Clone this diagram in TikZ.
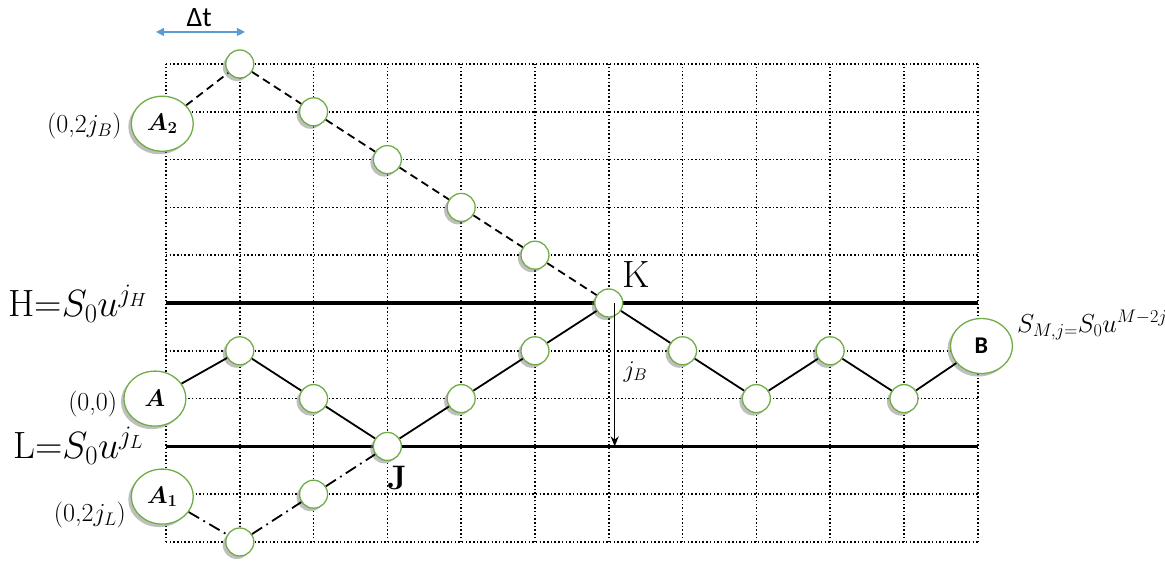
\RequirePackage{fix-cm}
\documentclass[tikz,border=0pt]{standalone}
\usepackage{amsmath,amssymb}
\usepackage{bm}
\usepackage{fontspec}
\newfontfamily\calibri{Carlito}
\usepackage{tikz}
\usetikzlibrary{shapes.geometric, shadows, arrows.meta}

\definecolor{nodegreen}{RGB}{112,173,71}
\definecolor{arrowblue}{RGB}{91,155,213}

\tikzset{
  lattice/.style={line width=1.5pt, dash pattern=on 1.5pt off 2.2pt},
  barrier/.style={line width=3.5pt},
  lattnode/.style={circle, draw=nodegreen, line width=1.3pt, fill=white,
    minimum size=28pt, inner sep=0pt,
    drop shadow={shadow xshift=-3pt, shadow yshift=-3pt, fill=black!50}},
  endnode/.style={ellipse, draw=nodegreen, line width=1.3pt, fill=white,
    minimum width=62pt, minimum height=55pt, inner sep=0pt,
    drop shadow={shadow xshift=-3pt, shadow yshift=-3pt, fill=black!50}},
  mainpath/.style={line width=1.8pt},
  uppath/.style={line width=1.8pt, dash pattern=on 8pt off 5pt},
  lowpath/.style={line width=1.8pt, dash pattern=on 12pt off 5pt on 1.8pt off 5pt}
}

\begin{document}
\begin{tikzpicture}[x=73.8pt, y=47.8pt]
    \useasboundingbox (-2.249,-0.377) rectangle (13.537,11.339);

    % Grid
    \foreach \i in {0,...,11}
        \draw[lattice] (\i,0) -- (\i,10);
    \foreach \j in {0,...,10}
        \draw[lattice] (0,\j) -- (11,\j);

    % Barriers H and L
    \draw[barrier] (0,5) -- (11,5);
    \draw[barrier] (0,2) -- (11,2);

    % End nodes
    \node[endnode] (A)  at (-0.15,3)    {\fontsize{24}{27}\selectfont$\bm{A}$};
    \node[endnode] (A2) at (-0.05,8.75) {\fontsize{24}{27}\selectfont$\bm{A_2}$};
    \node[endnode] (A1) at (-0.05,0.95) {\fontsize{24}{27}\selectfont$\bm{A_1}$};
    \node[endnode] (B)  at (11.05,4.1)  {\calibri\bfseries\fontsize{24}{28}\selectfont B};

    % Lattice nodes
    \node[lattnode] (K) at (6,5) {};
    \node[lattnode] (J) at (3,2) {};
    \foreach \n/\x/\y in {u1/1/10, u2/2/9, u3/3/8, u4/4/7, u5/5/6,
                          p1/1/4, p2/2/3, p3/4/3, p4/5/4,
                          p5/7/4, p6/8/3, p7/9/4, p8/10/3,
                          d1/1/0, d2/2/1}
        \node[lattnode] (\n) at (\x,\y) {};

    % Paths
    \draw[uppath] (A2) -- (u1) -- (u2) -- (u3) -- (u4) -- (u5) -- (K);
    \draw[mainpath] (A) -- (p1) -- (p2) -- (J) -- (p3) -- (p4) -- (K)
        -- (p5) -- (p6) -- (p7) -- (p8) -- (B);
    \draw[lowpath] (A1) -- (d1) -- (d2) -- (J);

    % Distance j_B
    \coordinate (jtop) at (6.08,5);
    \coordinate (jbot) at (6.08,2);
    \draw[line width=1.5pt, -{Stealth[length=10pt, width=8pt]}] (jtop) -- (jbot);
    \node (jBlab) at (6.36,3.56) {\fontsize{24}{28}\selectfont$j_B$};

    % Time step
    \coordinate (dtl) at (-0.135,10.67);
    \coordinate (dtr) at (1.07,10.67);
    \draw[arrowblue, line width=1.3pt,
        {Triangle[length=8pt, width=8pt]}-{Triangle[length=8pt, width=8pt]}] (dtl) -- (dtr);
    \node (dtlab) at (0.45,10.96) {\calibri\fontsize{28}{32}\selectfont Δt};

    % Labels
    \node[anchor=base east, inner sep=0pt] (Hlab) at (-0.25,4.72)
        {\fontsize{38}{44}\selectfont H=$S_0u^{j_H}$};
    \node[anchor=base east, inner sep=0pt] (Llab) at (-0.3,1.75)
        {\fontsize{38}{44}\selectfont L=$S_0u^{j_L}$};
    \node[anchor=base east, inner sep=0pt] (A2lab) at (-0.6,8.56)
        {\fontsize{26}{30}\selectfont(0,2$j_B$)};
    \node[anchor=base east, inner sep=0pt] (Alab) at (-0.66,2.76)
        {\fontsize{26}{30}\selectfont(0,0)};
    \node[anchor=base east, inner sep=0pt] (A1lab) at (-0.54,0.42)
        {\fontsize{26}{30}\selectfont(0,2$j_L$)};
    \node[anchor=base, inner sep=0pt] (Klab) at (6.37,5.33)
        {\fontsize{38}{44}\selectfont K};
    \node[anchor=base, inner sep=0pt] (Jlab) at (3.13,1.09)
        {\fontsize{34}{40}\selectfont\bfseries J};
    \node[anchor=base west, inner sep=0pt] (Blab) at (11.53,4.39)
        {\fontsize{26}{30}\selectfont$S_{M,j=}S_0u^{M-2j}$};
\end{tikzpicture}
\end{document}
